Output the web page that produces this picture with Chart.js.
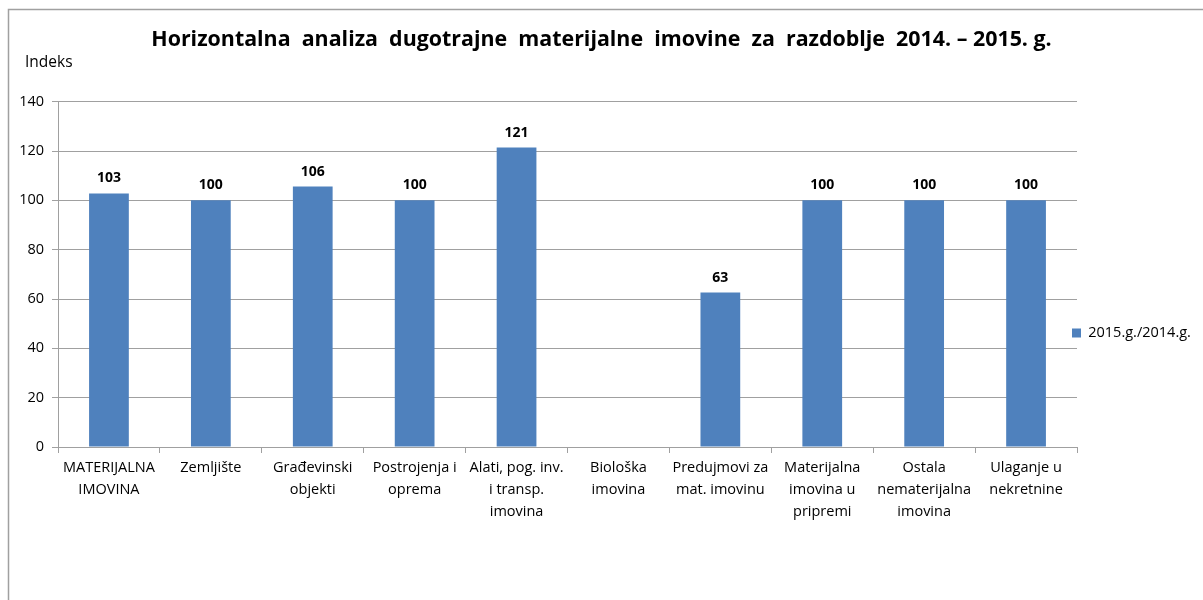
<!DOCTYPE html>
<html>
<head>
<meta charset="utf-8">
<script src="https://cdn.jsdelivr.net/npm/chart.js@4"></script>
<style>
  html, body { margin: 0; padding: 0; background: #fff; }
  #wrap { position: relative; width: 1203px; height: 600px; }
</style>
</head>
<body>
<div id="wrap"><canvas id="chart" width="1203" height="600"></canvas></div>
<script>
// Data

const chartTitle = 'Horizontalna  analiza  dugotrajne  materijalne  imovine  za  razdoblje  2014. – 2015. g.';
const yAxisLabel = 'Indeks';
const seriesName = '2015.g./2014.g.';

const categories = [
  ['MATERIJALNA', 'IMOVINA'],
  'Zemljište',
  ['Građevinski', 'objekti'],
  ['Postrojenja i', 'oprema'],
  ['Alati, pog. inv.', 'i transp.', 'imovina'],
  ['Biološka', 'imovina'],
  ['Predujmovi za', 'mat. imovinu'],
  ['Materijalna', 'imovina u', 'pripremi'],
  ['Ostala', 'nematerijalna', 'imovina'],
  ['Ulaganje u', 'nekretnine']
];

const indexValues = [102.8, 100, 105.6, 100, 121.4, null, 62.6, 100, 100, 100];

const yTicks = [0, 20, 40, 60, 80, 100, 120, 140];

// Styles

const BAR_BLUE  = '#4f81bd';
const GRID_GRAY = '#a0a0a0';
const TEXT      = '#000';
const FONT      = "'Open Sans', 'Noto Sans', sans-serif";

// Plugins

// frame of the chart object (left and top edge only are visible)
const framePlugin = {
  id: 'frame',
  beforeDraw(chart) {
    const ctx = chart.ctx;
    ctx.save();
    ctx.strokeStyle = '#a0a0a0';
    ctx.lineWidth = 1.5;
    ctx.beginPath();
    ctx.moveTo(8.5, 600);
    ctx.lineTo(8.5, 9.5);
    ctx.lineTo(1203, 9.5);
    ctx.stroke();
    ctx.restore();
  }
};

// "Indeks" written horizontally above the y axis
const axisNamePlugin = {
  id: 'axisName',
  afterDraw(chart) {
    const ctx = chart.ctx;
    ctx.save();
    ctx.font = `15.5px ${FONT}`;
    ctx.fillStyle = TEXT;
    ctx.textAlign = 'left';
    ctx.textBaseline = 'middle';
    ctx.fillText(yAxisLabel, 25, 63);
    ctx.restore();
  }
};

// value labels over the bars
const valueLabelPlugin = {
  id: 'valueLabels',
  afterDatasetsDraw(chart) {
    const ctx = chart.ctx;
    const meta = chart.getDatasetMeta(0);
    ctx.save();
    ctx.font = `bold 14px ${FONT}`;
    ctx.fillStyle = TEXT;
    ctx.textAlign = 'center';
    ctx.textBaseline = 'alphabetic';
    meta.data.forEach((bar, i) => {
      const v = indexValues[i];
      if (v === null) return;
      ctx.fillText(Math.round(v), bar.x, bar.y - 11);
    });
    ctx.restore();
  }
};

// legend sits lower and slightly over the plot edge, like in Excel
const legendShiftPlugin = {
  id: 'legendShift',
  afterLayout(chart) {
    const lg = chart.legend;
    if (!lg) return;
    const dx = 1072 - (lg.left + 4);
    lg.left += dx;
    lg.right += dx;
    lg.top += 33;
    lg.bottom += 33;
  }
};

// Chart

new Chart(document.getElementById('chart'), {
  type: 'bar',
  data: {
    labels: categories,
    datasets: [{
      label: seriesName,
      data: indexValues,
      backgroundColor: BAR_BLUE,
      borderWidth: 0,
      categoryPercentage: 1,
      barPercentage: 0.39
    }]
  },
  plugins: [framePlugin, axisNamePlugin, valueLabelPlugin, legendShiftPlugin],
  options: {
    responsive: false,
    animation: false,
    layout: { padding: { left: 0, right: 0, top: 0, bottom: 0 } },
    plugins: {
      title: {
        display: true,
        text: chartTitle,
        color: TEXT,
        font: { family: FONT, size: 21.4, weight: 'bold', lineHeight: 1.2 },
        padding: { top: 27, bottom: 49 }
      },
      legend: {
        position: 'right',
        maxWidth: 126,
        labels: {
          boxWidth: 9,
          boxHeight: 9,
          padding: 4,
          color: TEXT,
          font: { family: FONT, size: 14.5 }
        }
      },
      tooltip: { enabled: false }
    },
    scales: {
      x: {
        afterFit(scale) { scale.height = 153; },
        grid: {
          offset: true,
          drawOnChartArea: false,
          color: GRID_GRAY,
          tickLength: 6
        },
        border: { color: GRID_GRAY },
        ticks: {
          color: TEXT,
          maxRotation: 0,
          autoSkip: false,
          padding: 4,
          font: { family: FONT, size: 14.5, lineHeight: '22px' }
        }
      },
      y: {
        min: 0,
        max: 140,
        afterFit(scale) { scale.width = 58; },
        afterBuildTicks(scale) { scale.ticks = yTicks.map(v => ({ value: v })); },
        grid: { color: GRID_GRAY, tickLength: 6 },
        border: { color: GRID_GRAY },
        ticks: {
          color: TEXT,
          padding: 8,
          font: { family: FONT, size: 14.5 }
        }
      }
    }
  }
});
</script>
</body>
</html>
